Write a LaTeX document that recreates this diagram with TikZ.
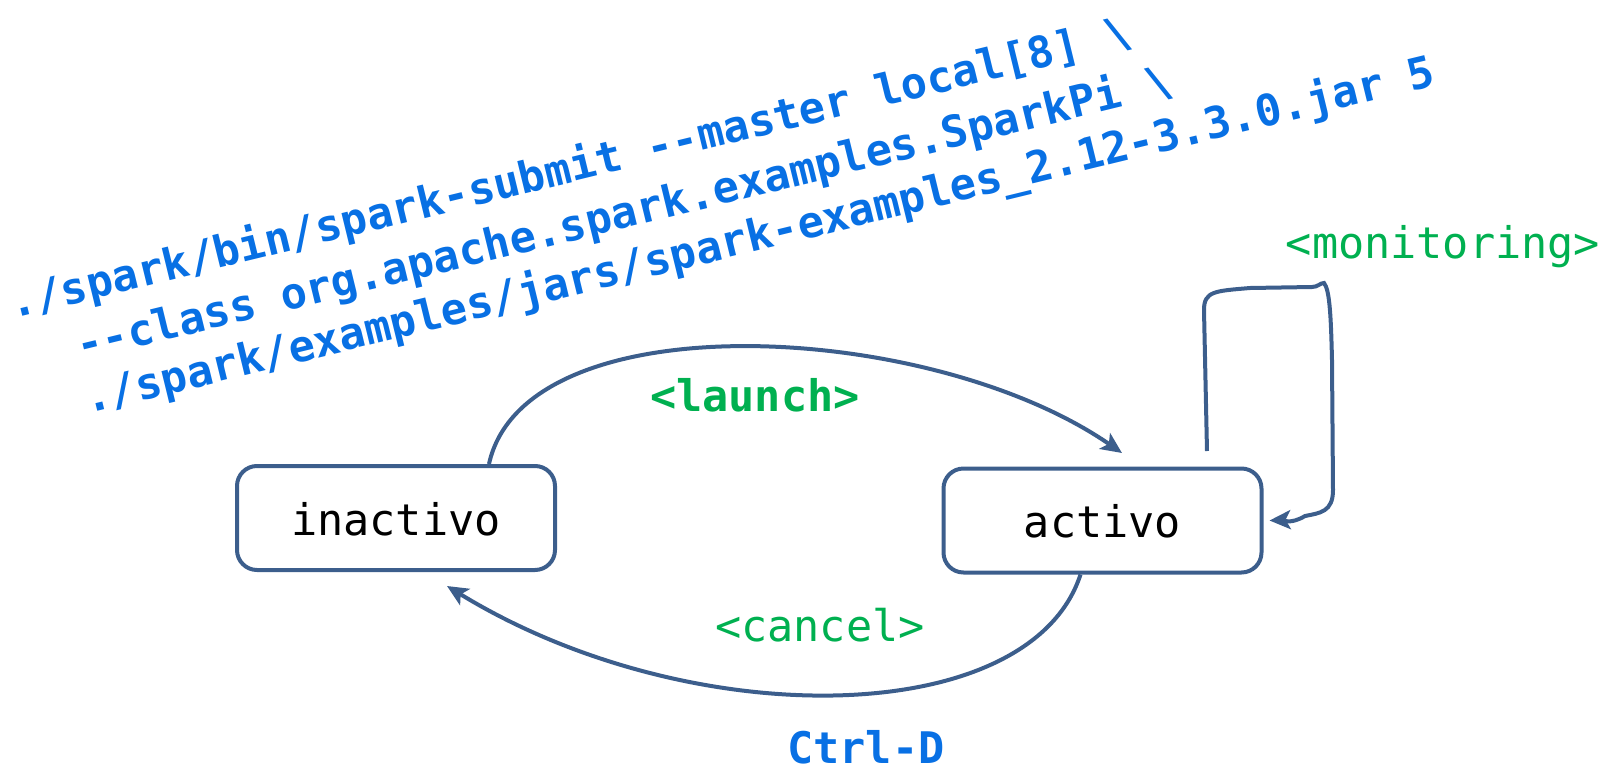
\documentclass[tikz,border=0pt]{standalone}
\usepackage{fontspec}
\setmonofont{DejaVu Sans Mono}
\usetikzlibrary{arrows.meta,calc}
\definecolor{cmdblue}{RGB}{8,112,228}
\definecolor{lblgreen}{RGB}{0,176,80}
\definecolor{edgeblue}{RGB}{60,94,140}
\newcommand{\monofs}{\ttfamily\fontsize{21.76}{26}\selectfont}
\begin{document}
\begin{tikzpicture}[x=0.5pt,y=-0.5pt,
  state/.style={draw=edgeblue, line width=2pt, rounded corners=10pt,
    minimum width=159pt, minimum height=52pt, font=\monofs,
    text height=17pt, text depth=0pt, inner sep=0pt},
  cmd/.style={font=\monofs\bfseries, text=cmdblue, rotate=13.7,
    anchor=base west, inner sep=0pt},
  lbl/.style={font=\monofs, text=lblgreen, anchor=base, inner sep=0pt},
  lblb/.style={font=\monofs\bfseries, anchor=base, inner sep=0pt},
  conn/.style={draw=edgeblue, line width=2pt,
    -{Stealth[length=10.5pt,width=9.5pt,inset=2.5pt]}}
]
\useasboundingbox (0,0) rectangle (1608,772);

\node[state] (inactivo) at (396,518) {inactivo};
\node[state] (activo) at (1102.5,520.5) {activo};

\node[cmd] (cmd1) at (13.5,318.5) {./spark/bin/spark-submit -{}-master local[8] \textbackslash};
\node[cmd] (cmd2) at (80,361) {-{}-class org.apache.spark.examples.SparkPi \textbackslash};
\node[cmd] (cmd3) at (88,414) {./spark/examples/jars/spark-examples\_2.12-3.3.0.jar 5};

\node[lblb, text=lblgreen] (launch) at (755,411) {\textless launch\textgreater};
\node[lbl] (cancel) at (820,641) {\textless cancel\textgreater};
\node[lbl] (monitoring) at (1443,258) {\textless monitoring\textgreater};
\node[lblb, text=cmdblue] (ctrld) at (866,763) {Ctrl-D};

\draw[conn] ($(inactivo.north)+(93,0)$) .. controls (525,300) and (930,320) .. ($(activo.north)+(19.5,-13.5)$);
\draw[conn] ($(activo.south)+(-22,0)$) .. controls (1030,730) and (690,735) .. ($(inactivo.south)+(51,14)$);
\draw[conn] ($(activo.north east)+(-56.5,-15.5)$) -- (1204,310)
  .. controls (1204,291) and (1215,291) .. (1250,288) -- (1312,287)
  .. controls (1318,287) and (1320,283) .. (1324,283)
  .. controls (1330,290) and (1331,320) .. (1332,360) -- (1333,490)
  .. controls (1333,512) and (1320,513) .. (1305,516)
  .. controls (1290,525) and (1282,520) .. ($(activo.east)+(6,0)$);
\end{tikzpicture}
\end{document}
